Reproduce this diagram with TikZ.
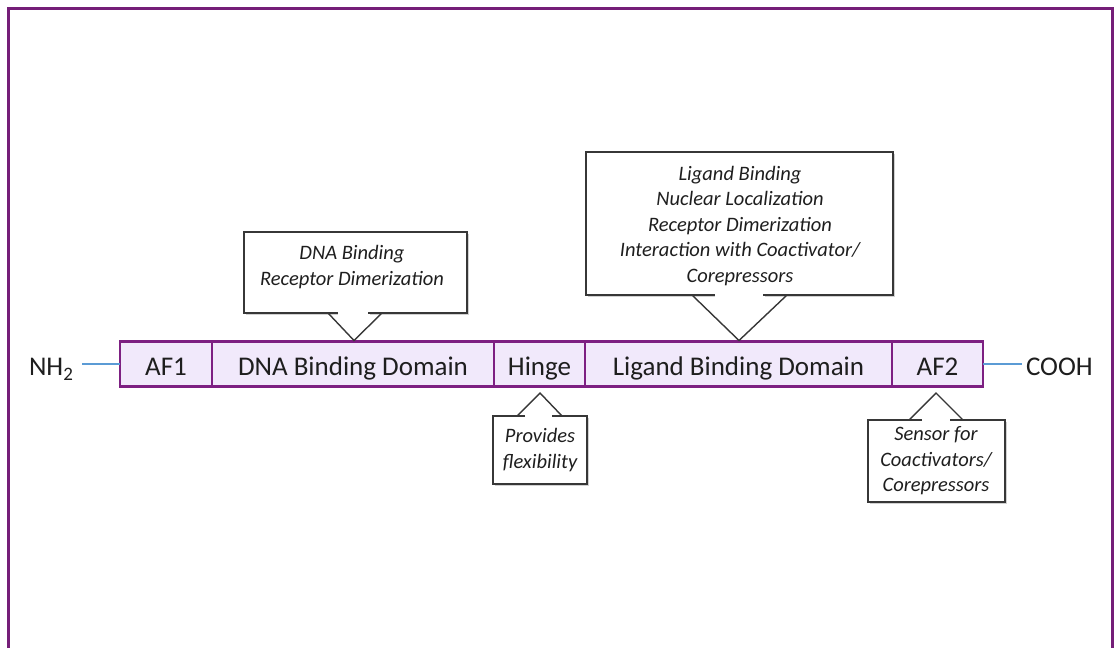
\documentclass[tikz,border=0pt]{standalone}
\usepackage{fontspec}
\setmainfont{Carlito}
\usetikzlibrary{calc}
\definecolor{framepurple}{RGB}{117,30,120}
\definecolor{barfill}{RGB}{241,233,251}
\definecolor{barline}{RGB}{125,32,130}
\definecolor{linkblue}{RGB}{91,155,213}
\definecolor{callgray}{RGB}{55,55,55}
\definecolor{textdark}{RGB}{30,30,30}
\begin{document}
\begin{tikzpicture}[x=1pt,y=-1pt,
  domainbox/.style={draw=barline, fill=barfill, line width=2.4pt, minimum height=45pt,
    inner sep=0pt, outer sep=0pt, text height=22pt, text depth=0pt,
    font=\fontsize{27}{32}\selectfont, text=textdark},
  endlabel/.style={inner sep=0pt, outer sep=0pt, font=\fontsize{27}{32}\selectfont, text=textdark},
  link/.style={draw=linkblue, line width=2.6pt},
  callbox/.style={inner sep=0pt, outer sep=0pt},
  calltext/.style={inner sep=0pt, align=center, text=textdark,
    font=\fontsize{20.5}{25.5}\selectfont\itshape},
  callline/.style={draw=callgray, line width=1.4pt, line join=miter},
  callshadow/.style={draw=black!18, line width=1.6pt},
  frameline/.style={draw=framepurple, line width=3pt}
  ]
\useasboundingbox (0,0) rectangle (1114,648);
% frame
\draw[frameline] (8,650) -- (8,8) -- (1112.5,8) -- (1112.5,650);

% domain bar
\node[domainbox, minimum width=92pt]  (af1)   at (166,364)   {AF1};
\node[domainbox, minimum width=282pt] (dna)   at (353,364)   {DNA Binding Domain};
\node[domainbox, minimum width=91pt]  (hinge) at (539.5,364) {Hinge};
\node[domainbox, minimum width=307pt] (lbd)   at (738.5,364) {Ligand Binding Domain};
\node[domainbox, minimum width=91pt]  (af2)   at (937.5,364) {AF2};

% ends
\node[endlabel, anchor=base west] (nh2) at (29,375) {NH\raisebox{-0.45ex}{\fontsize{19}{22}\selectfont 2}};
\node[endlabel, anchor=base west] (cooh) at (1026,375) {COOH};
\draw[link] (82,364) coordinate (nhend) -- (af1.west);
\draw[link] (af2.east) -- (1022,364) coordinate (coend);

% ---- DNA callout (above) ----
\node[callbox, minimum width=223pt, minimum height=81pt] (dnab) at (355.5,272.5) {};
\node[calltext] (dnat) at (352,267) {DNA Binding\\Receptor Dimerization};
\draw[callshadow] ($(dnab.north east)+(1.5,1.5)$) -- ($(dnab.south east)+(1.5,1.5)$) -- ($(dnab.south)+(14,1.5)$);
\draw[callshadow] ($(dnab.south)+(-17.5,1.5)$) -- ($(dnab.south west)+(1.5,1.5)$);
\draw[callline] ($(dnab.south)+(-17.5,0)$) -- (dnab.south west) -- (dnab.north west)
  -- (dnab.north east) -- (dnab.south east) -- ($(dnab.south)+(12.5,0)$);
\coordinate (dnaapex) at (354,340.5);
\draw[callline] ($(dnab.south)+(-27.5,0)$) -- (dnaapex) -- ($(dnab.south)+(26.5,0)$);

% ---- LBD callout (above) ----
\node[callbox, minimum width=307pt, minimum height=143pt] (lbdb) at (739.5,223.5) {};
\node[calltext] (lbdt) at (740,226) {Ligand Binding\\Nuclear Localization\\Receptor Dimerization\\Interaction with Coactivator/\\Corepressors};
\draw[callshadow] ($(lbdb.north east)+(1.5,1.5)$) -- ($(lbdb.south east)+(1.5,1.5)$) -- ($(lbdb.south)+(25,1.5)$);
\draw[callshadow] ($(lbdb.south)+(-24.5,1.5)$) -- ($(lbdb.south west)+(1.5,1.5)$);
\draw[callline] ($(lbdb.south)+(-24.5,0)$) -- (lbdb.south west) -- (lbdb.north west)
  -- (lbdb.north east) -- (lbdb.south east) -- ($(lbdb.south)+(23.5,0)$);
\coordinate (lbdapex) at (739,340.5);
\draw[callline] ($(lbdb.south)+(-47.5,0)$) -- (lbdapex) -- ($(lbdb.south)+(47.5,0)$);

% ---- Hinge callout (below) ----
\node[callbox, minimum width=94pt, minimum height=68pt] (hingeb) at (540,450) {};
\node[calltext] (hinget) at (540,450) {Provides\\flexibility};
\draw[callshadow] ($(hingeb.north east)+(1.5,1.5)$) -- ($(hingeb.south east)+(1.5,1.5)$) -- ($(hingeb.south west)+(1.5,1.5)$);
\draw[callline] ($(hingeb.north)+(-15,0)$) -- (hingeb.north west) -- (hingeb.south west)
  -- (hingeb.south east) -- (hingeb.north east) -- ($(hingeb.north)+(12,0)$);
\coordinate (hingeapex) at (540,393);
\draw[callline] ($(hingeb.north)+(-23,0)$) -- (hingeapex) -- ($(hingeb.north)+(22,0)$);

% ---- AF2 callout (below) ----
\node[callbox, minimum width=137pt, minimum height=82pt] (af2b) at (936.5,461) {};
\node[calltext] (af2t) at (936,461) {Sensor for\\Coactivators/\\Corepressors};
\draw[callshadow] ($(af2b.north east)+(1.5,1.5)$) -- ($(af2b.south east)+(1.5,1.5)$) -- ($(af2b.south west)+(1.5,1.5)$);
\draw[callline] ($(af2b.north)+(-14.5,0)$) -- (af2b.north west) -- (af2b.south west)
  -- (af2b.south east) -- (af2b.north east) -- ($(af2b.north)+(13.5,0)$);
\coordinate (af2apex) at (936,393);
\draw[callline] ($(af2b.north)+(-27.5,0)$) -- (af2apex) -- ($(af2b.north)+(26.5,0)$);
\end{tikzpicture}
\end{document}
